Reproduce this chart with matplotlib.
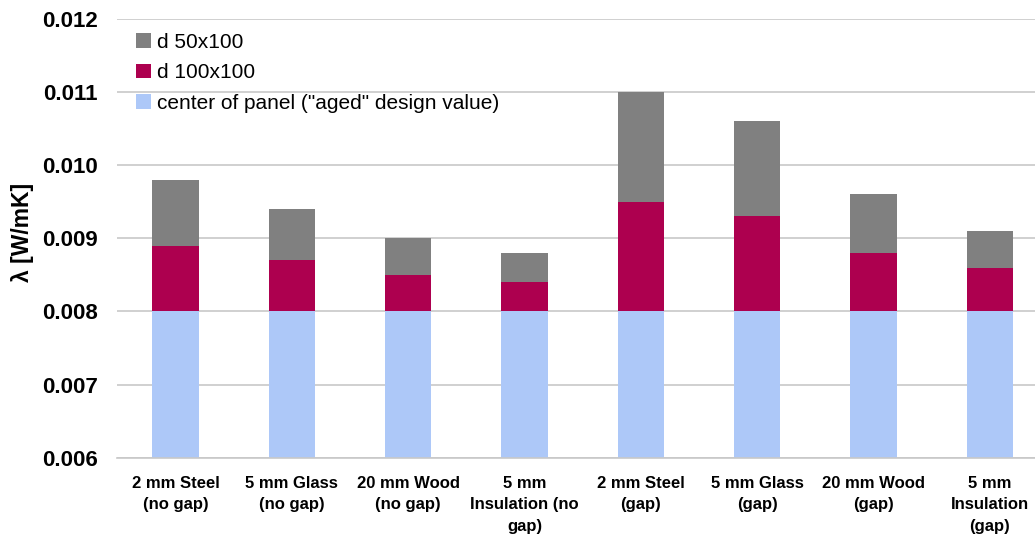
import numpy as np
import matplotlib
matplotlib.use('Agg')
import matplotlib.pyplot as plt

plt.rcParams['font.family'] = ['Liberation Sans', 'DejaVu Sans']

# Data
categories = ['2 mm Steel\n(no gap)', '5 mm Glass\n(no gap)', '20 mm Wood\n(no gap)',
              '5 mm\nInsulation (no\ngap)', '2 mm Steel\n(gap)', '5 mm Glass\n(gap)',
              '20 mm Wood\n(gap)', '5 mm\nInsulation\n(gap)']
center_panel = [0.008, 0.008, 0.008, 0.008, 0.008, 0.008, 0.008, 0.008]
d100_top = [0.0089, 0.0087, 0.0085, 0.0084, 0.0095, 0.0093, 0.0088, 0.0086]
d50_top = [0.0098, 0.0094, 0.0090, 0.0088, 0.0110, 0.0106, 0.0096, 0.0091]
y_base = 0.006

center_panel = np.array(center_panel)
d100_top = np.array(d100_top)
d50_top = np.array(d50_top)

fig = plt.figure(figsize=(10.35, 5.36), dpi=100)
# axes runs slightly past the right edge, like the original
ax = fig.add_axes([117.4 / 1035, 1 - 457.6 / 536, 930.6 / 1035, (457.6 - 19) / 536])

x = np.arange(len(categories))
w = 0.40
b1 = ax.bar(x, center_panel - y_base, w, bottom=y_base, color='#ADC8F8',
            label='center of panel ("aged" design value)', zorder=2)
b2 = ax.bar(x, d100_top - center_panel, w, bottom=center_panel, color='#AD004F',
            label='d 100x100', zorder=2)
b3 = ax.bar(x, d50_top - d100_top, w, bottom=d100_top, color='#808080',
            label='d 50x100', zorder=2)

ax.set_ylim(0.006, 0.012)
ax.set_xlim(-0.5, len(categories) - 0.5)
ax.set_yticks(np.arange(0.006, 0.0121, 0.001))
ax.set_yticklabels(['%.3f' % v for v in np.arange(0.006, 0.0121, 0.001)],
                   fontsize=16, fontweight='bold')
ax.set_xticks(x)
ax.set_xticklabels(categories, fontsize=12, fontweight='bold', linespacing=1.55)
ax.tick_params(axis='y', length=0, pad=14)
ax.tick_params(axis='x', length=0, pad=13)
ax.yaxis.grid(True, color='#C8C8C8', linewidth=1.2, zorder=0)
ax.set_axisbelow(True)
for s in ['top', 'right', 'left']:
    ax.spines[s].set_visible(False)
ax.spines['bottom'].set_color('#C8C8C8')
ax.spines['bottom'].set_linewidth(1.2)

fig.text(23 / 1035, 1 - 232 / 536, 'λ [W/mK]', rotation=90, fontsize=16.5,
         fontweight='bold', ha='center', va='center')

ax.legend(handles=[b3, b2, b1], loc='upper left',
          bbox_to_anchor=(136 / 1035, 1 - 33 / 536), bbox_transform=fig.transFigure,
          frameon=False, fontsize=15, handlelength=0.7, handleheight=0.7,
          handletextpad=0.3, labelspacing=0.55, borderpad=0, borderaxespad=0)

fig.savefig('out.png', dpi=100)
